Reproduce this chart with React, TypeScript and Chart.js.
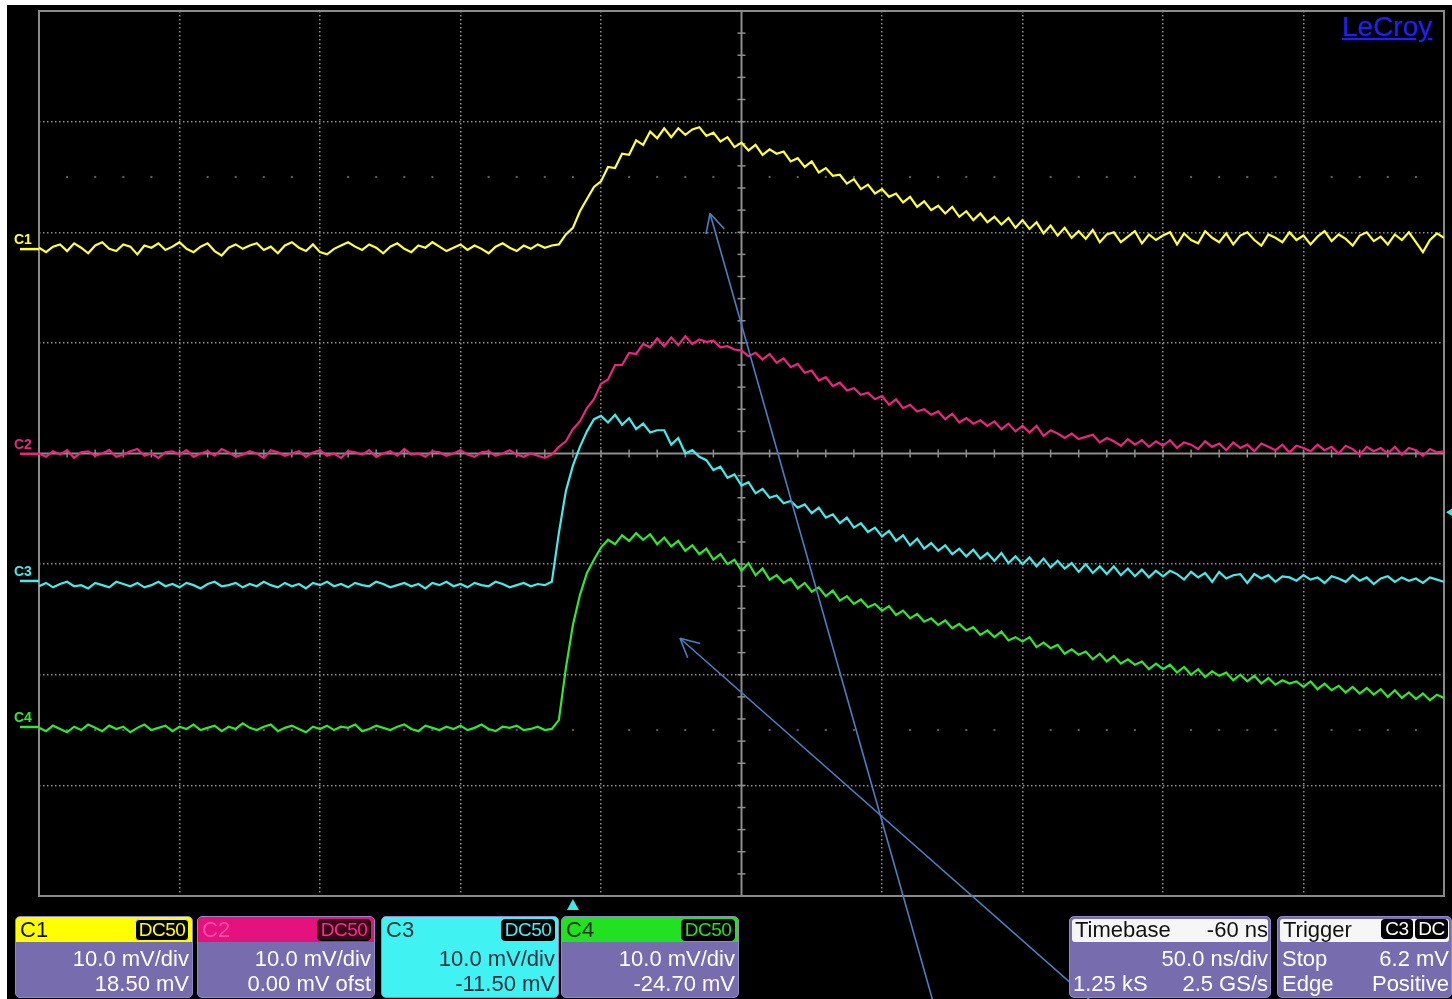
import React, { useEffect, useRef } from "react";
import { Chart, registerables } from "chart.js";

Chart.register(...registerables);

// ---- scope settings ----
const NS_PER_DIV = 50;
const H_DIVS = 10;
const MV_PER_DIV = 10;
const V_DIVS = 8;
const TIME_SPAN_NS = NS_PER_DIV * H_DIVS; // 500 ns across the screen
const TRIGGER_TIME_NS = 190; // -60 ns delay from screen centre
const TRIGGER_LEVEL_MV = 6.2; // on C3

const CHANNELS = ["C1", "C2", "C3", "C4"];
const OFFSETS_MV = [18.5, 0.0, -11.5, -24.7];
const COLORS = ["#ffff3a", "#e8267e", "#46eaea", "#33e633"];

// ---- traces (mV, relative to the channel offset), one value every 2.5 ns ----
const C1_MV = [
  0.1, -0.3, 0.2, 0.4, -0.2, 0.5, 0.1, -0.4, 0.3, 0.6, 0.0, -0.2, 0.4, 0.2, -0.5, 0.3, 0.1, 0.5, -0.1, 0.2,
  0.6, 0.0, -0.3, 0.2, 0.5, -0.2, -0.6, 0.1, 0.4, 0.0, 0.3, 0.5, -0.1, 0.2, -0.4, 0.3, 0.6, 0.1, -0.2, 0.4,
  -0.3, -0.5, 0.0, 0.3, 0.6, 0.2, -0.1, 0.4, 0.1, -0.4, 0.2, 0.5, 0.0, -0.3, 0.3, 0.1, 0.6, 0.2, -0.2, 0.1,
  0.4, -0.1, 0.3, 0.0, -0.4, 0.2, 0.5, 0.1, -0.2, 0.3, 0.0, 0.4, 0.1, 0.3,
  0.4, 1.3, 1.9, 3.4, 4.5, 5.6,
  6.1, 7.4, 7.3, 8.6, 8.5, 9.8, 9.4, 10.6, 10.0, 10.9, 10.1, 10.9, 10.3, 10.8, 11.0, 10.2, 10.5, 9.7, 10.1, 9.2,
  9.6, 8.9, 9.4, 8.5, 9.0, 8.6, 8.8, 7.9, 8.2, 7.4, 7.9, 6.9, 7.3, 6.6, 6.7, 5.9, 6.3, 5.4, 5.8, 5.0,
  5.4, 4.7, 5.0, 4.2, 4.7, 3.8, 4.3, 3.5, 3.9, 3.2, 3.8, 2.9, 3.4, 2.6, 3.2, 2.4, 2.9, 2.2, 2.8, 1.9,
  2.6, 1.8, 2.4, 1.4, 2.1, 1.2, 1.9, 1.0, 1.6, 0.9, 1.7, 0.6, 1.3, 1.5, 0.6, 1.1, 1.6, 0.5, 1.3, 0.8,
  1.2, 1.5, 0.4, 1.4, 0.8, 0.5, 1.6, 1.0, 0.6, 1.4, 0.4, 1.2, 1.5, 0.8, 0.3, 1.3, 1.0, 0.6, 1.5, 0.8,
  1.2, 0.4, 1.1, 1.6, 0.7, 1.3, 0.9, 0.3, 1.2, 1.5, 0.7, 1.1, 0.4, 1.3, 0.8, 1.5, 0.6, -0.3, 0.8, 1.4, 1.0,
];

const C2_MV = [
  0.0, -0.3, 0.2, -0.1, 0.3, -0.4, 0.1, 0.2, -0.2, 0.0, 0.3, -0.3, -0.1, 0.2, 0.4, -0.2, 0.0, -0.4, 0.1, 0.2,
  -0.1, 0.3, -0.3, 0.0, 0.2, -0.2, 0.4, 0.1, -0.3, -0.1, 0.2, 0.0, -0.4, 0.3, 0.1, -0.2, 0.0, 0.2, -0.3, 0.1,
  0.3, -0.2, 0.0, -0.4, 0.2, 0.1, -0.1, 0.3, -0.3, 0.0, 0.2, -0.2, 0.4, -0.1, 0.0, -0.3, 0.2, 0.1, -0.2, 0.0,
  0.3, -0.1, -0.3, 0.1, 0.2, -0.2, 0.0, 0.3, -0.1, -0.3, 0.0, -0.2, -0.4, -0.1,
  0.6, 1.1, 2.2, 2.9, 4.1, 4.9,
  6.3, 6.7, 8.0, 8.0, 9.1, 9.0, 9.9, 9.6, 10.4, 9.7, 10.5, 9.8, 10.6, 9.9, 10.3, 10.1, 10.2, 9.6, 9.7, 9.4,
  9.3, 8.8, 9.1, 8.5, 9.0, 8.2, 8.6, 7.8, 8.1, 7.3, 7.5, 6.6, 6.9, 6.1, 6.4, 5.7, 5.9, 5.3, 5.5, 4.9,
  5.2, 4.4, 4.9, 4.1, 4.4, 3.8, 4.0, 3.5, 3.8, 3.1, 3.6, 2.8, 3.2, 2.7, 3.0, 2.5, 2.9, 2.2, 2.7, 2.0,
  2.5, 1.9, 2.5, 1.6, 2.1, 1.8, 1.4, 1.8, 1.3, 1.5, 1.7, 1.0, 1.4, 1.1, 0.7, 1.3, 0.8, 1.2, 0.6, 1.1,
  0.7, 1.2, 0.5, 1.0, 0.8, 0.4, 1.1, 0.6, 0.9, 0.3, 1.0, 0.5, 0.8, 0.2, 0.9, 0.6, 0.3, 0.8, 0.1, 0.7,
  0.5, 0.2, 0.8, 0.3, 0.6, 0.0, 0.7, 0.4, -0.1, 0.6, 0.2, 0.5, 0.0, 0.6, -0.1, 0.5, 0.3, -0.2, 0.4, 0.1, 0.2,
];

const C3_MV = [
  -0.5, -0.2, -0.6, -0.3, -0.1, -0.5, -0.4, -0.7, -0.2, -0.4, -0.6, -0.1, -0.3, -0.5, -0.2, -0.6, -0.4, -0.1, -0.5, -0.3,
  -0.6, -0.2, -0.4, -0.7, -0.3, -0.1, -0.5, -0.4, -0.2, -0.6, -0.3, -0.5, -0.1, -0.4, -0.6, -0.2, -0.5, -0.3, -0.7, -0.2,
  -0.4, -0.1, -0.5, -0.3, -0.6, -0.2, -0.4, -0.5, -0.1, -0.3, -0.6, -0.4, -0.2, -0.5, -0.3, -0.7, -0.2, -0.4, -0.1, -0.5,
  -0.3, -0.6, -0.2, -0.4, -0.5, -0.1, -0.3, -0.6, -0.4, -0.2, -0.5, -0.3, -0.4, -0.1,
  4.3, 8.1, 10.4, 12.1, 13.5, 14.6,
  14.9, 14.3, 15.0, 14.1, 14.7, 13.7, 14.2, 13.4, 13.6, 13.6, 12.3, 12.9, 11.5, 11.8, 11.2, 10.9, 10.0, 10.3, 9.3, 9.6,
  8.6, 8.9, 7.9, 8.3, 7.5, 7.7, 7.0, 7.2, 6.6, 6.9, 6.1, 6.6, 5.7, 6.0, 5.2, 5.7, 4.8, 5.2, 4.4, 4.8,
  4.0, 4.5, 3.6, 4.1, 3.2, 3.8, 2.9, 3.4, 2.7, 3.2, 2.4, 2.9, 2.2, 2.8, 2.0, 2.5, 1.8, 2.5, 1.6, 2.2,
  1.5, 2.1, 1.3, 2.0, 1.2, 1.8, 1.1, 1.6, 0.8, 1.5, 0.7, 1.3, 0.6, 1.3, 0.5, 1.1, 0.4, 1.0, 0.3, 0.9,
  0.4, 0.9, 0.6, 0.1, 0.8, 0.3, 0.7, -0.1, 0.8, 0.2, 0.5, 0.6, -0.2, 0.6, 0.2, 0.5, -0.1, 0.4, 0.3, 0.0,
  0.5, 0.1, 0.3, -0.2, 0.4, 0.2, -0.1, 0.5, 0.0, 0.3, -0.3, 0.2, 0.4, -0.1, 0.3, 0.0, 0.2, -0.2, 0.3, 0.1, -0.1,
];

const C4_MV = [
  -0.1, -0.4, 0.1, -0.2, -0.5, 0.0, -0.3, 0.2, -0.1, -0.4, 0.1, -0.2, 0.0, -0.5, -0.1, 0.2, -0.3, -0.1, 0.1, -0.4,
  0.0, -0.2, 0.2, -0.3, -0.1, 0.1, -0.4, 0.0, -0.2, 0.3, -0.1, -0.3, 0.0, 0.2, -0.4, -0.1, 0.1, -0.2, -0.5, 0.0,
  -0.2, 0.1, -0.3, 0.0, -0.1, 0.2, -0.4, -0.2, 0.1, -0.1, -0.3, 0.0, 0.2, -0.2, -0.4, 0.1, -0.1, -0.3, 0.0, -0.2,
  0.1, -0.3, -0.1, 0.2, -0.2, -0.4, 0.0, -0.1, 0.1, -0.3, -0.2, 0.0, -0.3, -0.2,
  0.6, 5.3, 9.2, 11.9, 13.9, 15.1,
  16.2, 16.9, 16.5, 17.3, 16.8, 17.5, 16.9, 17.4, 16.5, 17.1, 16.3, 16.8, 15.9, 16.4, 15.6, 16.1, 15.1, 15.6, 14.7, 15.1,
  14.1, 14.8, 13.7, 14.3, 13.3, 13.7, 13.0, 13.4, 12.5, 13.0, 12.2, 12.6, 11.8, 12.3, 11.4, 11.8, 11.1, 11.5, 10.8, 11.1,
  10.5, 10.9, 10.1, 10.5, 9.8, 10.2, 9.5, 9.8, 9.2, 9.6, 8.9, 9.3, 8.7, 9.0, 8.3, 8.7, 8.1, 8.6, 7.8, 8.1,
  7.7, 8.1, 7.2, 7.6, 7.1, 7.4, 6.6, 7.0, 6.5, 6.8, 6.1, 6.6, 5.9, 6.4, 5.7, 6.1, 5.6, 5.9, 5.2, 5.7,
  5.2, 5.6, 4.9, 5.4, 4.7, 5.2, 4.5, 5.0, 4.6, 4.9, 4.2, 4.7, 4.1, 4.6, 3.9, 4.4, 3.8, 4.2, 3.9, 4.1,
  3.6, 4.1, 3.4, 3.9, 3.3, 3.7, 3.1, 3.6, 3.0, 3.5, 2.9, 3.4, 2.7, 3.3, 2.6, 3.1, 2.5, 3.0, 2.4, 2.9, 2.6,
];

const TRACES = [C1_MV, C2_MV, C3_MV, C4_MV];

// annotation arrows, in (ns, screen mV)
const ARROW_TAILS = [
  [318, -49.4],
  [374, -49.4],
];
const ARROW_TIPS = [
  [238.8, 21.7],
  [228.1, -16.7],
];

const PURPLE = "#776cae";
const FONT = '"Liberation Sans", Arial, sans-serif';

const scopePlugin = {
  id: "scopeDecor",
  beforeDatasetsDraw(chart: any) {
    const { ctx, chartArea: a, scales } = chart;
    const xs = scales.x;
    const ys = scales.y;
    const line = (x1: number, y1: number, x2: number, y2: number) => {
      ctx.beginPath();
      ctx.moveTo(x1, y1);
      ctx.lineTo(x2, y2);
      ctx.stroke();
    };
    ctx.save();
    // quarter rows of dots
    ctx.fillStyle = "rgba(175,175,175,0.55)";
    for (const mv of [25, -25]) {
      const py = ys.getPixelForValue(mv);
      for (let k = 1; k < 50; k++) {
        if (k % 5 === 0) continue;
        const px = xs.getPixelForValue(k * 10);
        ctx.fillRect(px - 1, py - 1, 2, 2);
      }
    }
    // centre cross
    const cx = xs.getPixelForValue(TIME_SPAN_NS / 2);
    const cy = ys.getPixelForValue(0);
    ctx.strokeStyle = "#8c8c8c";
    ctx.lineWidth = 2;
    line(cx, a.top, cx, a.bottom);
    line(a.left, cy, a.right, cy);
    ctx.lineWidth = 1.5;
    for (let k = 1; k < 50; k++) {
      const px = xs.getPixelForValue(k * 10);
      line(px, cy - 4, px, cy + 4);
    }
    for (let k = -19; k <= 19; k++) {
      const py = ys.getPixelForValue(k * 2);
      line(cx - 4, py, cx + 4, py);
    }
    // frame
    ctx.lineWidth = 2;
    ctx.strokeStyle = "#8a8a8a";
    ctx.strokeRect(a.left, a.top, a.right - a.left, a.bottom - a.top);
    // channel labels and offset markers
    ctx.font = `bold 14px ${FONT}`;
    ctx.textBaseline = "alphabetic";
    ctx.textAlign = "left";
    CHANNELS.forEach((name, i) => {
      const py = ys.getPixelForValue(OFFSETS_MV[i]);
      ctx.fillStyle = COLORS[i];
      ctx.fillText(name, 14, py - 5);
      ctx.fillRect(20, py - 1, a.left - 20, 2.5);
    });
    // trigger markers
    ctx.fillStyle = "#3fe6e6";
    const tx = xs.getPixelForValue(TRIGGER_TIME_NS);
    ctx.beginPath();
    ctx.moveTo(tx, a.bottom + 3);
    ctx.lineTo(tx - 6, a.bottom + 14);
    ctx.lineTo(tx + 6, a.bottom + 14);
    ctx.closePath();
    ctx.fill();
    const ty = ys.getPixelForValue(TRIGGER_LEVEL_MV + OFFSETS_MV[2]);
    ctx.beginPath();
    ctx.moveTo(a.right + 2, ty);
    ctx.lineTo(a.right + 10, ty - 5);
    ctx.lineTo(a.right + 10, ty + 5);
    ctx.closePath();
    ctx.fill();
    ctx.restore();
  },
  afterDatasetsDraw(chart: any) {
    const { ctx, scales } = chart;
    const xs = scales.x;
    const ys = scales.y;
    ctx.save();
    ctx.strokeStyle = "#4a7fc1";
    ctx.lineWidth = 1.6;
    ARROW_TIPS.forEach((tip, i) => {
      const tail = ARROW_TAILS[i];
      const x1 = xs.getPixelForValue(tail[0]);
      const y1 = ys.getPixelForValue(tail[1]);
      const x2 = xs.getPixelForValue(tip[0]);
      const y2 = ys.getPixelForValue(tip[1]);
      ctx.beginPath();
      ctx.moveTo(x1, y1);
      ctx.lineTo(x2, y2);
      ctx.stroke();
      const ang = Math.atan2(y1 - y2, x1 - x2);
      const len = 21;
      for (const d of [-0.47, 0.47]) {
        ctx.beginPath();
        ctx.moveTo(x2, y2);
        ctx.lineTo(x2 + len * Math.cos(ang + d), y2 + len * Math.sin(ang + d));
        ctx.stroke();
      }
    });
    ctx.restore();
  },
};

function Row({ top, left, right, children, color = "#fff" }: any) {
  const style: any = {
    position: "absolute",
    top,
    fontSize: 22,
    lineHeight: "24px",
    color,
    whiteSpace: "nowrap",
  };
  if (left !== undefined) style.left = left;
  if (right !== undefined) style.right = right;
  return <div style={style}>{children}</div>;
}

function Badge({ text, bg, fg, border, right, width }: any) {
  return (
    <div
      style={{
        position: "absolute",
        top: 2,
        right,
        width,
        height: 20,
        background: bg,
        color: fg,
        border: border ? `1px solid ${border}` : "none",
        borderRadius: 4,
        fontSize: 19,
        lineHeight: "20px",
        textAlign: "center",
        letterSpacing: -0.5,
      }}
    >
      {text}
    </div>
  );
}

function ChannelPanel({ left, name, color, nameColor, badgeBg, badgeFg, badgeBorder, line1, line2, bodyBg, bodyFg }: any) {
  return (
    <div
      style={{
        position: "absolute",
        left,
        top: 916,
        width: 176,
        height: 80,
        background: bodyBg,
        border: "1px solid #9089c4",
        borderRadius: 5,
        overflow: "hidden",
        fontFamily: FONT,
      }}
    >
      <div style={{ position: "absolute", left: 0, top: 0, right: 0, height: 25, background: color }} />
      <Row top={1} left={4} color={nameColor}>
        {name}
      </Row>
      <Badge text="DC50" bg={badgeBg} fg={badgeFg} border={badgeBorder} right={3} width={52} />
      <Row top={30} right={3} color={bodyFg}>
        {line1}
      </Row>
      <Row top={55} right={3} color={bodyFg}>
        {line2}
      </Row>
    </div>
  );
}

export default function App() {
  const canvasRef = useRef<HTMLCanvasElement | null>(null);

  useEffect(() => {
    const canvas = canvasRef.current;
    if (!canvas) return;
    const datasets = TRACES.map((vals, i) => ({
      label: CHANNELS[i],
      data: vals.map((v, k) => ({ x: (k * TIME_SPAN_NS) / (vals.length - 1), y: v + OFFSETS_MV[i] })),
      borderColor: COLORS[i],
      borderWidth: 2.2,
      pointRadius: 0,
      tension: 0,
      fill: false,
    }));
    const chart = new Chart(canvas, {
      type: "line",
      data: { datasets },
      plugins: [scopePlugin],
      options: {
        animation: false,
        responsive: false,
        devicePixelRatio: 1,
        events: [],
        layout: { padding: { left: 39, top: 11, right: 8, bottom: 103 } },
        plugins: { legend: { display: false }, tooltip: { enabled: false } },
        scales: {
          x: {
            type: "linear",
            min: 0,
            max: TIME_SPAN_NS,
            ticks: { display: false, stepSize: NS_PER_DIV },
            grid: {
              color: (ctx: any) => {
                const v = ctx.tick ? ctx.tick.value : 0;
                return v === 0 || v === TIME_SPAN_NS || v === TIME_SPAN_NS / 2 ? "rgba(0,0,0,0)" : "#8e8e8e";
              },
              lineWidth: 1.5,
              drawTicks: false,
            },
            border: { display: false, dash: [1.5, 2.5] },
          },
          y: {
            type: "linear",
            min: (-MV_PER_DIV * V_DIVS) / 2,
            max: (MV_PER_DIV * V_DIVS) / 2,
            ticks: { display: false, stepSize: MV_PER_DIV },
            grid: {
              color: (ctx: any) => {
                const v = ctx.tick ? ctx.tick.value : 0;
                return v === 0 || Math.abs(v) === (MV_PER_DIV * V_DIVS) / 2 ? "rgba(0,0,0,0)" : "#8e8e8e";
              },
              lineWidth: 1.5,
              drawTicks: false,
            },
            border: { display: false, dash: [1.5, 2.5] },
          },
        },
      },
    });
    return () => chart.destroy();
  }, []);

  return (
    <div
      style={{
        position: "absolute",
        left: 0,
        top: 0,
        width: 1452,
        height: 999,
        background: "#ffffff",
        overflow: "hidden",
        fontFamily: FONT,
      }}
    >
      <div style={{ position: "absolute", left: 7, top: 5, right: 0, bottom: 0, background: "#000" }} />
      <canvas ref={canvasRef} width={1452} height={999} style={{ position: "absolute", left: 0, top: 0 }} />
      <div
        style={{
          position: "absolute",
          left: 1342,
          top: 11,
          fontSize: 28,
          color: "#2121e8",
          textDecoration: "underline",
          fontFamily: FONT,
          lineHeight: "32px",
          textShadow: "0 0 2px #1010a0",
        }}
      >
        LeCroy
      </div>

      <ChannelPanel left={15} name="C1" color="#ffff00" nameColor="#111" badgeBg="#000" badgeFg="#ffff00" badgeBorder="#ffff00" line1="10.0 mV/div" line2="18.50 mV" bodyBg={PURPLE} bodyFg="#fff" />
      <ChannelPanel left={197} name="C2" color="#e3127c" nameColor="#ff4aa6" badgeBg="#3a0618" badgeFg="#ff2a90" badgeBorder="#000" line1="10.0 mV/div" line2="0.00 mV ofst" bodyBg={PURPLE} bodyFg="#fff" />
      <ChannelPanel left={381} name="C3" color="#40f2f2" nameColor="#333" badgeBg="#000" badgeFg="#40f2f2" badgeBorder="#000" line1="10.0 mV/div" line2="-11.50 mV" bodyBg="#40f2f2" bodyFg="#2e2e3e" />
      <ChannelPanel left={561} name="C4" color="#22e022" nameColor="#123012" badgeBg="#000" badgeFg="#22e022" badgeBorder="#000" line1="10.0 mV/div" line2="-24.70 mV" bodyBg={PURPLE} bodyFg="#fff" />

      <div
        style={{
          position: "absolute",
          left: 1069,
          top: 916,
          width: 200,
          height: 80,
          background: PURPLE,
          border: "1px solid #9089c4",
          borderRadius: 5,
          overflow: "hidden",
        }}
      >
        <div style={{ position: "absolute", left: 2, top: 2, right: 2, height: 23, background: "#f6f6f6", borderRadius: 3 }} />
        <Row top={1} left={5} color="#111">Timebase</Row>
        <Row top={1} right={2} color="#111">-60 ns</Row>
        <Row top={30} right={2}>50.0 ns/div</Row>
        <Row top={55} left={3}>1.25 kS</Row>
        <Row top={55} right={2}>2.5 GS/s</Row>
      </div>

      <div
        style={{
          position: "absolute",
          left: 1277,
          top: 916,
          width: 173,
          height: 80,
          background: PURPLE,
          border: "1px solid #9089c4",
          borderRadius: 5,
          overflow: "hidden",
        }}
      >
        <div style={{ position: "absolute", left: 2, top: 2, right: 2, height: 23, background: "#f6f6f6", borderRadius: 3 }} />
        <Row top={1} left={5} color="#111">Trigger</Row>
        <Badge text="C3" bg="#000" fg="#fff" right={38} width={32} />
        <Badge text="DC" bg="#000" fg="#fff" right={3} width={33} />
        <Row top={30} left={4}>Stop</Row>
        <Row top={30} right={2}>6.2 mV</Row>
        <Row top={55} left={4}>Edge</Row>
        <Row top={55} right={2}>Positive</Row>
      </div>
    </div>
  );
}
